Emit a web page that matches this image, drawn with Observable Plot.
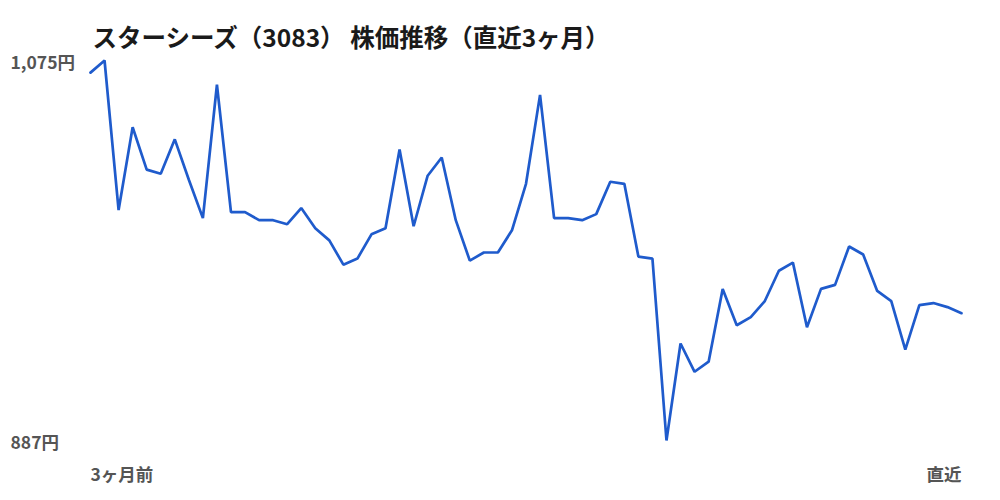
<!DOCTYPE html>
<html>
<head>
<meta charset="utf-8">
<script src="https://cdn.jsdelivr.net/npm/d3@7"></script>
<script src="https://cdn.jsdelivr.net/npm/@observablehq/plot@0.6"></script>
<style>
  html, body { margin: 0; padding: 0; background: #fff; }
  #chart svg { display: block; }
</style>
</head>
<body>
<div id="chart"></div>
<script>
const title = "スターシーズ（3083） 株価推移（直近3ヶ月）";
const prices = [
  1069, 1075, 1001, 1042, 1021, 1019, 1036, 1016, 997, 1063,
  1000, 1000, 996, 996, 994, 1002, 992, 986, 974, 977,
  989, 992, 1031, 993, 1018, 1027, 996, 976, 980, 980,
  991, 1014, 1058, 997, 997, 996, 999, 1015, 1014, 978,
  977, 887, 935, 921, 926, 962, 944, 948, 956, 971,
  975, 943, 962, 964, 983, 979, 961, 956, 932, 954,
  955, 953, 950
];
const yTicks = [887, 1075];
const xTickLabels = ["3ヶ月前", "直近"];

const data = prices.map((p, i) => ({i, p}));
const last = prices.length - 1;
const font = "'Noto Sans CJK JP', 'Noto Sans', sans-serif";

const chart = Plot.plot({
  width: 1000,
  height: 500,
  marginLeft: 90,
  marginRight: 39,
  marginTop: 60,
  marginBottom: 60,
  style: {fontFamily: font, background: "#fff"},
  x: {domain: [0, last], axis: null},
  y: {domain: [yTicks[0], yTicks[1]], axis: null},
  marks: [
    Plot.line(data, {x: "i", y: "p", stroke: "#1f5bcc", strokeWidth: 2.7, strokeLinejoin: "miter"}),
    Plot.text(yTicks, {y: d => d, frameAnchor: "left", dx: -80, dy: 3, textAnchor: "start",
      text: d => d3.format(",")(d) + "円", fontSize: 17.5, fontWeight: "bold", fill: "#555"}),
    Plot.text([xTickLabels[0]], {x: 0, frameAnchor: "bottom", dy: 35, lineAnchor: "middle", textAnchor: "start",
      text: d => d, fontSize: 17.5, fontWeight: "bold", fill: "#555"}),
    Plot.text([xTickLabels[1]], {x: last, frameAnchor: "bottom", dy: 35, lineAnchor: "middle", textAnchor: "end",
      text: d => d, fontSize: 17.5, fontWeight: "bold", fill: "#555"}),
    Plot.text([title], {frameAnchor: "top-left", dx: 2, dy: -21, lineAnchor: "middle", textAnchor: "start",
      text: d => d, fontSize: 24.5, fontWeight: "bold", fill: "#1a1a1a"})
  ]
});
document.getElementById("chart").appendChild(chart);
</script>
</body>
</html>
